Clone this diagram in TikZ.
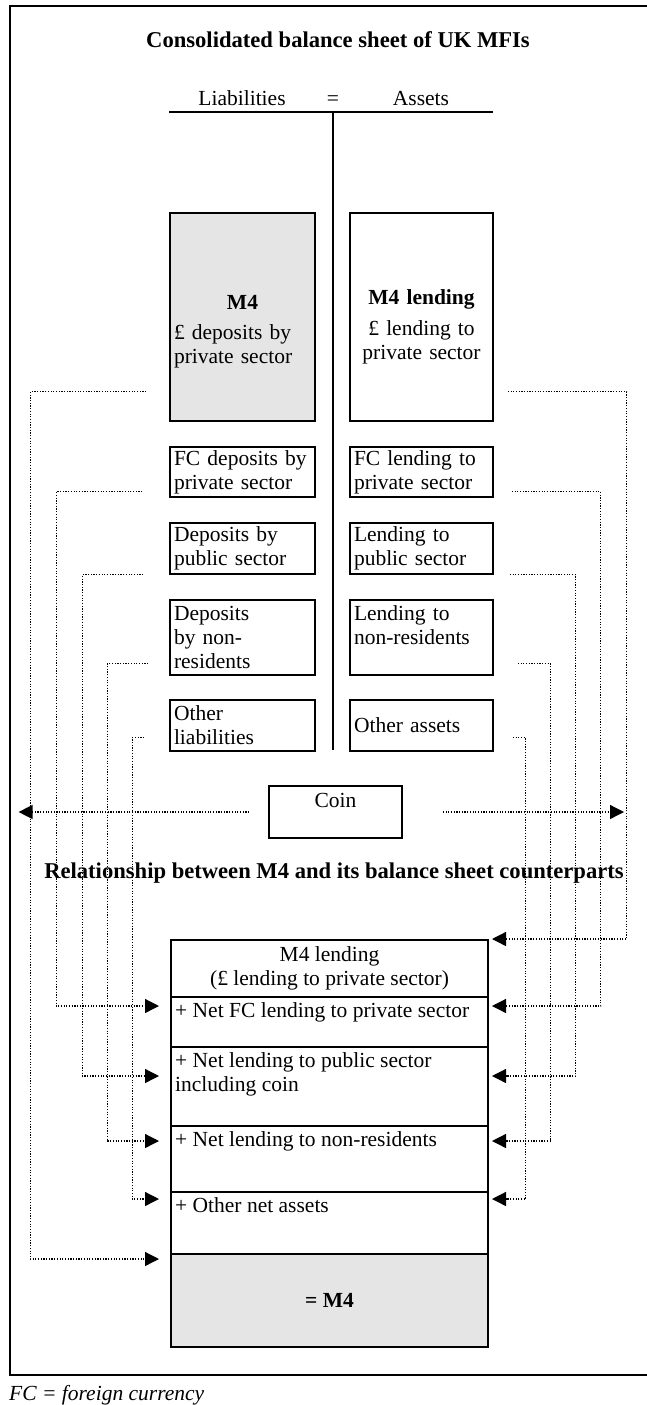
\documentclass[tikz,border=0pt]{standalone}
\usepackage{fontspec}
\setmainfont{Liberation Serif}
\usetikzlibrary{arrows.meta,positioning}
\definecolor{sheetgray}{gray}{0.9}
\newcommand\sheetfont{\fontsize{21.5pt}{24pt}\selectfont}
\newcommand\headfont{\fontsize{22.6pt}{24pt}\selectfont\bfseries}
\tikzset{
	item/.style={draw, line width=1.6pt, inner xsep=4pt, inner ysep=0pt, align=left},
	liab/.style={item, text width=137pt},
	asset/.style={item, text width=135pt},
	tabrow/.style={draw, line width=1.6pt, minimum width=317pt, outer sep=0pt, inner sep=0pt},
	rowtext/.style={anchor=north west, inner xsep=4pt, inner ysep=5pt, align=left},
	link/.style={line width=1.3pt, dash pattern=on 1.2pt off 1.5pt, -{Triangle[length=14pt,width=14pt]}},
}
\begin{document}
\begin{tikzpicture}[x=1pt, y=-1pt, font=\sheetfont]
				\useasboundingbox (0,0) rectangle (646,1405);
				\draw[line width=2pt] (660,6) -- (10,6) -- (10,1375) -- (660,1375);
				\node[font=\headfont] (title) at (338,40) {Consolidated balance sheet of UK MFIs};
				\node[anchor=base] (liabs) at (242,105) {Liabilities};
				\node[anchor=base] (equals) at (333,105) {=};
				\node[anchor=base] (assets) at (421,105) {Assets};
				\draw[line width=1.8pt] (169,112) -- (493,112);
				\draw[line width=1.8pt] (333,112) -- (333,750);
				
				% liabilities
				\node[liab, fill=sheetgray, minimum height=208pt] (dMfour) at (242.5,317) {\mbox{}\\[20pt]\hfil\textbf{M4}\hfil\\[6pt]£ deposits by\\private sector};
				\node[liab, minimum height=50pt] (dFC) at (242.5,472) {FC deposits by\\private sector};
				\node[liab, minimum height=51pt] (dPub) at (242.5,548.5) {Deposits by\\public sector};
				\node[liab, minimum height=75pt] (dNon) at (242.5,637.5) {Deposits\\by non-\\residents};
				\node[liab, minimum height=51pt] (dOth) at (242.5,725.5) {Other\\liabilities};
				
				% assets
				\node[asset, align=center, minimum height=208pt] (lMfour) at (421.5,317) {\mbox{}\\[11pt]\textbf{M4 lending}\\[7pt]£ lending to\\private sector};
				\node[asset, minimum height=50pt] (lFC) at (421.5,472) {FC lending to\\private sector};
				\node[asset, minimum height=51pt] (lPub) at (421.5,548.5) {Lending to\\public sector};
				\node[asset, minimum height=75pt] (lNon) at (421.5,637.5) {Lending to\\non-residents\\\mbox{}};
				\node[asset, minimum height=51pt] (lOth) at (421.5,725.5) {Other assets};
				
				\node[item, align=center, minimum width=133pt, minimum height=52pt] (coin) at (335.5,812) {Coin\\\mbox{}};
				
				\node[font=\headfont] (relation) at (334,873) {Relationship between M4 and its balance sheet counterparts};
				
				% counterparts table
				\node[tabrow, minimum height=57pt, align=center] (rLend) at (329.5,968.5) {M4 lending\\(£ lending to private sector)};
				\node[tabrow, minimum height=50pt, below=0pt of rLend] (rFC) {};
				\node[tabrow, minimum height=79pt, below=0pt of rFC] (rPub) {};
				\node[tabrow, minimum height=66pt, below=0pt of rPub] (rNon) {};
				\node[tabrow, minimum height=62pt, below=0pt of rNon] (rOth) {};
				\node[tabrow, minimum height=93pt, fill=sheetgray, below=0pt of rOth] (rMfour) {\textbf{= M4}};
				\node[rowtext] (tFC) at (rFC.north west) {+ Net FC lending to private sector};
				\node[rowtext] (tPub) at (rPub.north west) {+ Net lending to public sector\\including coin};
				\node[rowtext] (tNon) at (rNon.north west) {+ Net lending to non-residents};
				\node[rowtext] (tOth) at (rOth.north west) {+ Other net assets};
				
				\node[anchor=west, inner sep=0pt] (note) at (9,1395) {\textit{FC = foreign currency}};
				
				% link ends
				\coordinate (sDM) at ([xshift=-23pt, yshift=30pt]dMfour.south west);
				\coordinate (sDF) at ([xshift=-27pt, yshift=6pt]dFC.south west);
				\coordinate (sDP) at ([xshift=-26pt]dPub.south west);
				\coordinate (sDN) at ([xshift=-21pt, yshift=12pt]dNon.south west);
				\coordinate (sDO) at ([xshift=-25pt, yshift=14pt]dOth.south west);
				\coordinate (sLM) at ([xshift=14pt, yshift=30pt]lMfour.south east);
				\coordinate (sLF) at ([xshift=18pt, yshift=6pt]lFC.south east);
				\coordinate (sLP) at ([xshift=16pt]lPub.south east);
				\coordinate (sLN) at ([xshift=24pt, yshift=12pt]lNon.south east);
				\coordinate (sLO) at ([xshift=19pt, yshift=14pt]lOth.south east);
				\coordinate (eDM) at ([xshift=-12pt, yshift=-5pt]rMfour.north west);
				\coordinate (eDF) at ([xshift=-12pt, yshift=-9pt]rFC.north west);
				\coordinate (eDP) at ([xshift=-12pt, yshift=-29pt]rPub.north west);
				\coordinate (eDN) at ([xshift=-12pt, yshift=-15pt]rNon.north west);
				\coordinate (eDO) at ([xshift=-12pt, yshift=-7pt]rOth.north west);
				\coordinate (eLM) at ([xshift=4pt, yshift=1pt]rLend.north east);
				\coordinate (eLF) at ([xshift=4pt, yshift=-9pt]rFC.north east);
				\coordinate (eLP) at ([xshift=4pt, yshift=-29pt]rPub.north east);
				\coordinate (eLN) at ([xshift=4pt, yshift=-15pt]rNon.north east);
				\coordinate (eLO) at ([xshift=4pt, yshift=-7pt]rOth.north east);
				\coordinate (coinL) at (18.6,812);
				\coordinate (coinR) at (624,812);
				
				\draw[link] (sDM) -- ++(-116,0) |- (eDM);
				\draw[link] (sDF) -- ++(-86,0) |- (eDF);
				\draw[link] (sDP) -- ++(-61,0) |- (eDP);
				\draw[link] (sDN) -- ++(-41,0) |- (eDN);
				\draw[link] (sDO) -- ++(-12,0) |- (eDO);
				\draw[link] (sLM) -- ++(119,0) |- (eLM);
				\draw[link] (sLF) -- ++(89,0) |- (eLF);
				\draw[link] (sLP) -- ++(66,0) |- (eLP);
				\draw[link] (sLN) -- ++(33,0) |- (eLN);
				\draw[link] (sLO) -- ++(13,0) |- (eLO);
				\draw[link] ([xshift=-19pt]coin.west) -- (coinL);
				\draw[link] ([xshift=40pt]coin.east) -- (coinR);
			\end{tikzpicture}
\end{document}
